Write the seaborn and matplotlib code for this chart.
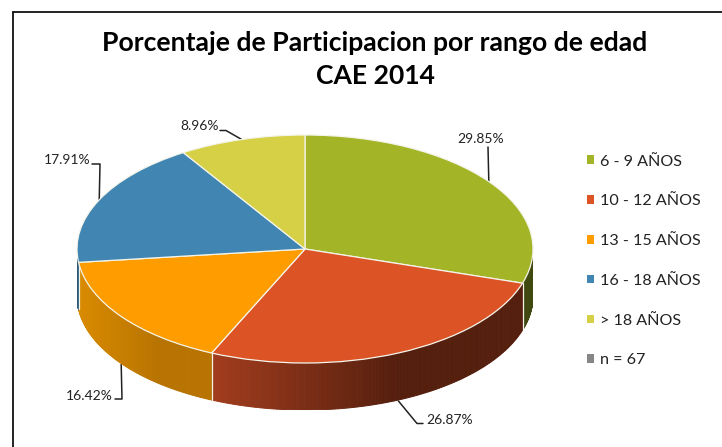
import numpy as np
import matplotlib
matplotlib.use("Agg")
import matplotlib.pyplot as plt
from matplotlib.colors import to_rgb
from matplotlib.patches import Patch
import seaborn as sns

categories = ['6 - 9 AÑOS', '10 - 12 AÑOS', '13 - 15 AÑOS', '16 - 18 AÑOS', '> 18 AÑOS']
percentages = [29.85, 26.87, 16.42, 17.91, 8.96]
n_label = 'n = 67'
title_text = 'Porcentaje de Participacion por rango de edad\nCAE 2014'

colors = ['#a4b427', '#dc5426', '#fe9c00', '#4186b2', '#d5d045']
side_left = ['#404a10', '#a33d1e', '#d98b00', '#2c5c7a', '#8f8c2e']
side_right = ['#404a10', '#551f0e', '#b87300', '#2c5c7a', '#8f8c2e']
grey = '#868686'

sns.set_theme(style="white")
plt.rcParams['font.family'] = ['Lato', 'DejaVu Sans']

W, H = 722, 447
fig = plt.figure(figsize=(W / 100, H / 100), dpi=100, facecolor='white')

# overlay in pixel coords for frame, leaders, labels
bg = fig.add_axes([0, 0, 1, 1])
bg.set_xlim(0, W)
bg.set_ylim(H, 0)
bg.axis('off')

# pie axes: ellipse 228 x 114 around (305, 249), plus 47 px of depth
cx, cy, rx, ry, depth = 305, 249, 228, 114, 47
ax = fig.add_axes([(cx - rx) / W, (H - cy - ry - depth) / H, 2 * rx / W, (2 * ry + depth) / H])
wedges, _ = ax.pie(percentages, colors=colors, startangle=90, counterclock=False, radius=1,
                   wedgeprops=dict(edgecolor='#f4f4ea', linewidth=0.9), normalize=True)
d = depth / ry
ax.set_aspect('auto')
ax.set_xlim(-1, 1)
ax.set_ylim(-1 - d, 1)

# side wall, front half only, shaded across each slice
frac = np.cumsum([0] + percentages) / np.sum(percentages)
for i in range(len(percentages)):
    a0, a1 = 2 * np.pi * frac[i], 2 * np.pi * frac[i + 1]
    a0v, a1v = max(a0, np.pi / 2), min(a1, 3 * np.pi / 2)
    if a1v <= a0v:
        continue
    steps = np.linspace(a0v, a1v, 120)
    c0, c1 = np.array(to_rgb(side_left[i])), np.array(to_rgb(side_right[i]))
    xs = np.sin(steps)
    for j in range(len(steps) - 1):
        # right part of the slice stays dark, then lightens to the left
        f = abs(xs[j] - xs[0]) / max(abs(xs[-1] - xs[0]), 1e-6)
        t = np.clip((1 - f) / 0.6, 0, 1)
        col = c0 * (1 - t) + c1 * t
        px = [xs[j], xs[j + 1], xs[j + 1], xs[j]]
        py = [np.cos(steps[j]), np.cos(steps[j + 1]), np.cos(steps[j + 1]) - d, np.cos(steps[j]) - d]
        ax.fill(px, py, facecolor=col, edgecolor=col, lw=0.7, zorder=0.5)
    # white seam at the slice edge
    if a0 > np.pi / 2:
        ax.plot([np.sin(a0)] * 2, [np.cos(a0), np.cos(a0) - d], color='#f4f4ea', lw=0.9, zorder=0.6)
ax.patch.set_alpha(0)

# leader lines start from the slice mid angle
mids = 2 * np.pi * (frac[:-1] + frac[1:]) / 2
ax_x = cx + rx * np.sin(mids)
ax_y = cy - ry * np.cos(mids)
ax_y[np.cos(mids) < -0.3] += depth + 1

label_elbows = [[(488, 147)], [(417, 423.5), (423, 423.5)], [(122, 399), (115, 399)],
                [(100, 164), (92, 164)], [(226, 130.5), (220, 130.5)]]
label_pos = [(481, 139, 'center'), (426, 420, 'left'), (113, 396, 'right'),
             (90, 160, 'right'), (219, 126, 'right')]
for i, p in enumerate(percentages):
    pts = [(ax_x[i], ax_y[i])] + label_elbows[i]
    bg.plot([q[0] for q in pts], [q[1] for q in pts], color='#222222', lw=1.1)
    lx, ly, ha = label_pos[i]
    bg.text(lx, ly, '%.2f%%' % p, ha=ha, va='center', fontsize=10, color='#222222')

# chart frame
bg.plot([12.5, 12.5], [H, 11.5], color='#111111', lw=1.3)
bg.plot([12.5, W], [11.5, 11.5], color='#111111', lw=1.3)

bg.text(375, 59.5, title_text, ha='center', va='center', fontsize=19.1, fontweight='bold',
        color='black', linespacing=1.46)

handles = [Patch(facecolor=c, edgecolor='none') for c in colors] + [Patch(facecolor=grey, edgecolor='none')]
labels = categories + [n_label]
leg = fig.legend(handles, labels, loc='upper left', bbox_to_anchor=(587 / W, 1 - 154.5 / H), frameon=False,
                 fontsize=11.6, handlelength=0.44, handleheight=0.44, handletextpad=0.36,
                 labelspacing=1.6, labelcolor='#222222', borderpad=0, borderaxespad=0)

fig.savefig('out.png', dpi=100, facecolor='white')
